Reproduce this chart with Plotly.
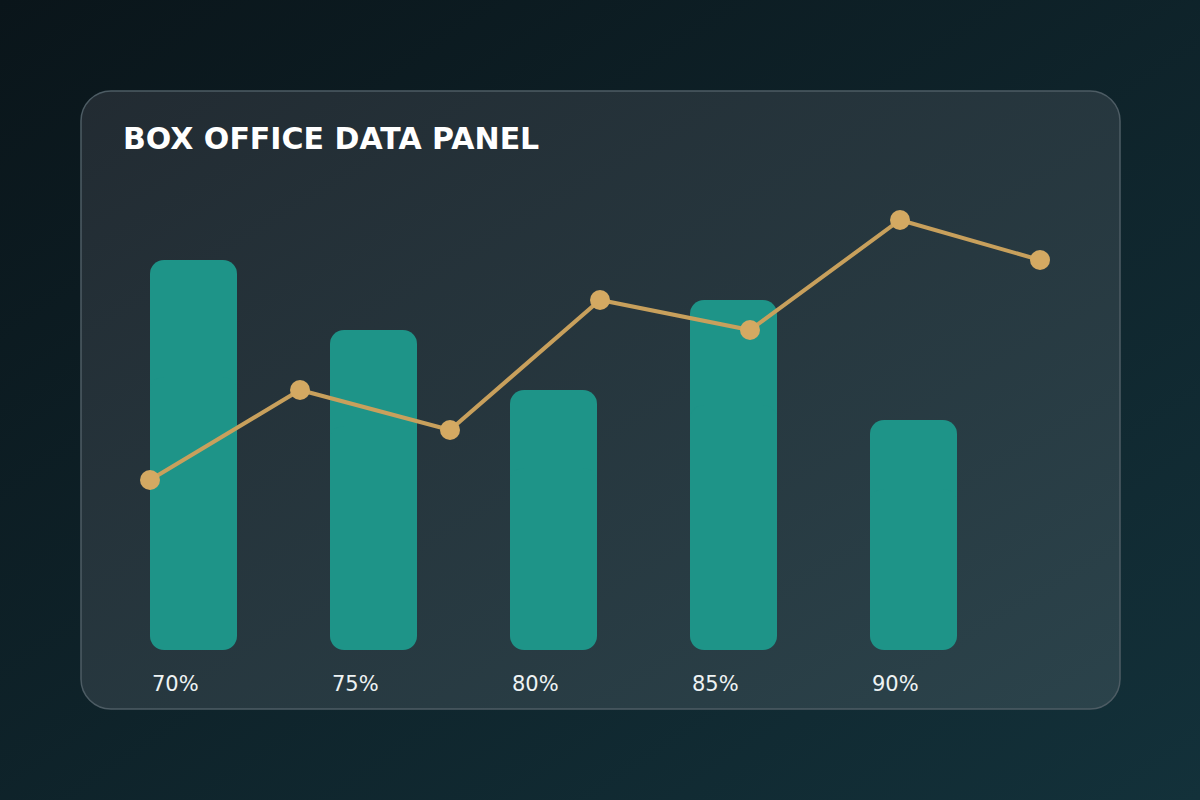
import base64
import plotly.graph_objects as go

# ---- data ----
bar_labels = ["70%", "75%", "80%", "85%", "90%"]
bar_values = [78, 64, 52, 70, 46]
line_values = [34, 52, 44, 70, 64, 86, 78]
title_text = "BOX OFFICE DATA PANEL"

W, H = 1200, 800
BAR_COLOR = "#1e9488"
LINE_COLOR = "#c8a05c"
MARKER_COLOR = "#d4a962"

# panel geometry (px)
PX0, PY0, PX1, PY1 = 81, 91, 1120, 709

# ---- background (gradient page + glass panel) as an SVG image ----
svg = f'''<svg xmlns="http://www.w3.org/2000/svg" width="{W}" height="{H}" viewBox="0 0 {W} {H}">
<defs>
<linearGradient id="bg" x1="0" y1="0" x2="1" y2="1">
<stop offset="0" stop-color="#0a151a"/><stop offset="1" stop-color="#13313a"/></linearGradient>
<linearGradient id="pn" x1="0" y1="0" x2="1" y2="1">
<stop offset="0" stop-color="#222b32"/><stop offset="1" stop-color="#2b434b"/></linearGradient>
</defs>
<rect width="{W}" height="{H}" fill="url(#bg)"/>
<rect x="{PX0}" y="{PY0}" width="{PX1-PX0}" height="{PY1-PY0}" rx="30" ry="30" fill="url(#pn)" stroke="#4d5c64" stroke-width="1.5"/>
</svg>'''
bg_uri = "data:image/svg+xml;base64," + base64.b64encode(svg.encode()).decode()

idx = list(range(len(bar_values)))
# line points step 150px from x=150, clamped to the panel's inner right edge (1040px)
max_line_idx = (PX1 - 80 - 150) / 150
line_idx = [min(i, max_line_idx) for i in range(len(line_values))]
bw = 87 / 180

fig = go.Figure()
# upper part of each bar (rounded top)
fig.add_trace(go.Bar(
    x=idx, y=[v * 0.7 for v in bar_values], base=[v * 0.3 for v in bar_values],
    width=bw, marker=dict(color=BAR_COLOR, line=dict(width=0)),
    hoverinfo="skip", showlegend=False))
# lower part of each bar (rounded bottom)
fig.add_trace(go.Bar(
    x=idx, y=[-v * 0.7 for v in bar_values], base=[v * 0.7 for v in bar_values],
    width=bw, marker=dict(color=BAR_COLOR, line=dict(width=0)),
    hoverinfo="skip", showlegend=False))
# line
fig.add_trace(go.Scatter(
    x=line_idx, y=line_values, xaxis="x2", yaxis="y",
    mode="lines+markers",
    line=dict(color=LINE_COLOR, width=4),
    marker=dict(color=MARKER_COLOR, size=20, line=dict(width=0)),
    hoverinfo="skip", showlegend=False))

annotations = [
    dict(text=lab, x=i - bw / 2, y=-6.8, xref="x", yref="y",
         xanchor="left", yanchor="middle", showarrow=False,
         font=dict(family="DejaVu Sans", size=21, color="#eef3f4"))
    for i, lab in enumerate(bar_labels)
]
annotations.append(dict(
    text=f"<b>{title_text}</b>", x=120.5 / W, y=1 - 138 / H, xref="paper", yref="paper",
    xanchor="left", yanchor="middle", showarrow=False,
    font=dict(family="DejaVu Sans", size=30, color="#ffffff")))

fig.update_layout(
    width=W, height=H, margin=dict(l=0, r=0, t=0, b=0),
    paper_bgcolor="#0f2228", plot_bgcolor="rgba(0,0,0,0)",
    barmode="overlay", barcornerradius=14,
    xaxis=dict(range=[-193.5 / 180, (W - 193.5) / 180], visible=False, fixedrange=True),
    xaxis2=dict(range=[-1, 7], overlaying="x", visible=False, fixedrange=True),
    yaxis=dict(range=[-30, 130], visible=False, fixedrange=True),
    images=[dict(source=bg_uri, xref="paper", yref="paper", x=0, y=1,
                 sizex=1, sizey=1, xanchor="left", yanchor="top",
                 sizing="stretch", layer="below")],
    annotations=annotations,
    showlegend=False,
)

fig.write_html("out.html", config={"displayModeBar": False})
